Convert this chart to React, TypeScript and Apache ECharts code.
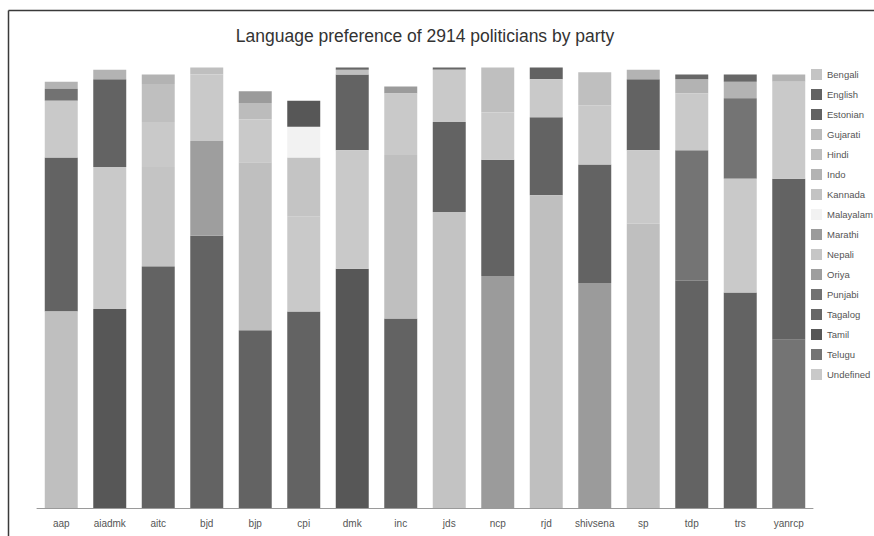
import React, { useEffect, useRef } from 'react';
import * as echarts from 'echarts';

const parties = ['aap', 'aiadmk', 'aitc', 'bjd', 'bjp', 'cpi', 'dmk', 'inc', 'jds', 'ncp', 'rjd', 'shivsena', 'sp', 'tdp', 'trs', 'yanrcp'];

const languages = ['Bengali', 'English', 'Estonian', 'Gujarati', 'Hindi', 'Indo', 'Kannada', 'Malayalam', 'Marathi', 'Nepali', 'Oriya', 'Punjabi', 'Tagalog', 'Tamil', 'Telugu', 'Undefined'];

const languageColors = ['#c4c4c4', '#636363', '#626262', '#bcbcbc', '#bfbfbf', '#b3b3b3', '#c3c3c3', '#f2f2f2', '#9b9b9b', '#c6c6c6', '#9e9e9e', '#727272', '#676767', '#575757', '#747474', '#c9c9c9'];

// counts per party, in the order of `parties`
const bengali = [0, 0, 42, 0, 0, 25, 0, 0, 0, 0, 0, 0, 0, 0, 0, 0];
const english = [65, 37, 102, 115, 75, 83, 32, 80, 38, 49, 33, 50, 30, 96, 91, 68];
const estonian = [0, 0, 0, 0, 0, 0, 0, 0, 0, 0, 5, 0, 0, 0, 0, 0];
const gujarati = [0, 0, 0, 0, 7, 0, 0, 0, 0, 0, 0, 0, 0, 0, 0, 0];
const hindi = [83, 0, 16, 3, 71, 0, 2, 69, 0, 19, 132, 14, 120, 0, 0, 0];
const indo = [3, 4, 4, 0, 0, 0, 0, 0, 0, 0, 0, 0, 4, 6, 7, 3];
const kannada = [0, 0, 0, 0, 0, 0, 0, 0, 125, 0, 0, 0, 0, 0, 0, 0];
const malayalam = [0, 0, 0, 0, 0, 13, 0, 0, 0, 0, 0, 0, 0, 0, 0, 0];
const marathi = [0, 0, 0, 0, 5, 0, 0, 3, 0, 98, 0, 95, 0, 0, 0, 0];
const nepali = [0, 0, 0, 0, 0, 0, 0, 0, 0, 0, 0, 0, 0, 0, 0, 0];
const oriya = [0, 0, 0, 40, 0, 0, 0, 0, 0, 0, 0, 0, 0, 0, 0, 0];
const punjabi = [5, 0, 0, 0, 0, 0, 0, 0, 0, 0, 0, 0, 0, 0, 0, 0];
const tagalog = [0, 0, 0, 0, 0, 0, 1, 0, 1, 0, 0, 0, 0, 2, 3, 0];
const tamil = [0, 84, 0, 0, 0, 11, 101, 0, 0, 0, 0, 0, 0, 0, 0, 0];
const telugu = [0, 0, 0, 0, 0, 0, 0, 0, 0, 0, 0, 0, 0, 55, 34, 71];
const undefinedLang = [24, 60, 19, 28, 18, 40, 50, 26, 22, 20, 16, 25, 31, 24, 48, 41];

const FONT = "'Liberation Sans', Arial, Helvetica, sans-serif";

export default function App() {
  const ref = useRef<HTMLDivElement>(null);

  useEffect(() => {
    if (!ref.current) return;
    const chart = echarts.init(ref.current, null, { renderer: 'svg' });

    const counts = [bengali, english, estonian, gujarati, hindi, indo, kannada, malayalam, marathi, nepali, oriya, punjabi, tagalog, tamil, telugu, undefinedLang];

    // each party's segments are stacked largest first (at the bottom)
    const segs: number[][][] = languages.map(() => []);
    parties.forEach((_, pi) => {
      const order = languages
        .map((_, li) => li)
        .filter((li) => counts[li][pi] > 0)
        .sort((a, b) => counts[b][pi] - counts[a][pi] || a - b);
      let base = 0;
      order.forEach((li) => {
        const v = counts[li][pi];
        segs[li].push([pi, base, base + v]);
        base += v;
      });
    });

    const series = languages.map((name, li) => ({
      type: 'custom',
      name,
      data: segs[li],
      encode: { x: 0, y: [1, 2] },
      itemStyle: { color: languageColors[li] },
      renderItem: (params: any, api: any) => {
        const x = api.value(0);
        const p0 = api.coord([x, api.value(1)]);
        const p1 = api.coord([x, api.value(2)]);
        const w = api.size([1, 0])[0] * 0.68;
        return {
          type: 'rect',
          shape: { x: p0[0] - w / 2, y: p1[1], width: w, height: p0[1] - p1[1] },
          style: { fill: api.visual('color') },
        };
      },
    }));

    chart.setOption({
      animation: false,
      backgroundColor: '#ffffff',
      title: {
        text: 'Language preference of 2914 politicians by party',
        left: 425,
        textAlign: 'center',
        top: 27,
        padding: 0,
        textStyle: { fontFamily: FONT, fontSize: 17.5, fontWeight: 'normal', color: '#333333' },
      },
      legend: {
        orient: 'vertical',
        left: 811,
        top: 69,
        padding: 0,
        icon: 'rect',
        itemWidth: 11,
        itemHeight: 11,
        itemGap: 9,
        selectedMode: false,
        data: languages,
        textStyle: { fontFamily: FONT, fontSize: 9.5, color: '#555555' },
      },
      grid: { left: 37, width: 776, top: 58, bottom: 28 },
      xAxis: {
        type: 'category',
        data: parties,
        boundaryGap: true,
        axisLine: { lineStyle: { color: '#9a9a9a', width: 1 } },
        axisTick: { alignWithLabel: true, interval: 0, length: 4, lineStyle: { color: '#9a9a9a' } },
        axisLabel: { interval: 0, fontFamily: FONT, fontSize: 10, color: '#555555', margin: 10 },
      },
      yAxis: {
        type: 'value',
        min: 0,
        max: 190,
        show: false,
        splitLine: { show: false },
      },
      graphic: [
        { type: 'line', shape: { x1: 8.5, y1: 10.5, x2: 874, y2: 10.5 }, style: { stroke: '#3a3a3a', lineWidth: 1.5 } },
        { type: 'line', shape: { x1: 8.5, y1: 10.5, x2: 8.5, y2: 536 }, style: { stroke: '#3a3a3a', lineWidth: 1.5 } },
      ],
      series,
    });

    return () => chart.dispose();
  }, []);

  return (
    <div style={{ position: 'fixed', left: 0, top: 0, width: 874, height: 536, background: '#ffffff' }}>
      <div ref={ref} style={{ width: 874, height: 536 }} />
    </div>
  );
}
